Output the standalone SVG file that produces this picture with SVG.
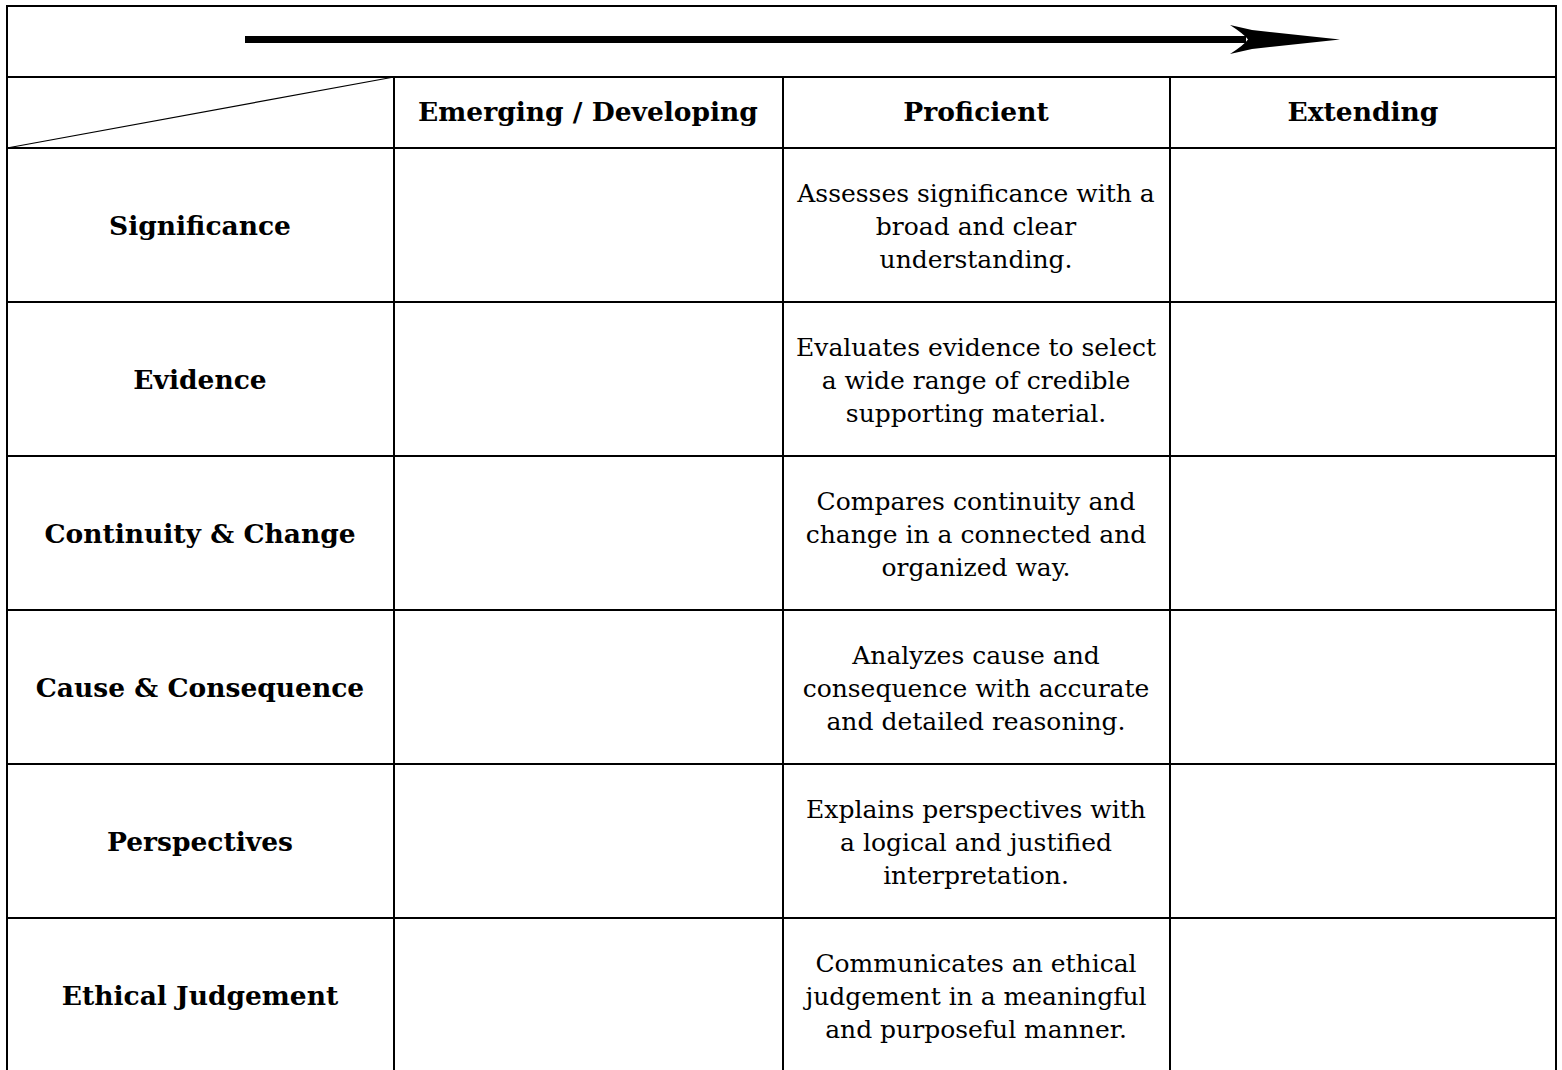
<svg xmlns="http://www.w3.org/2000/svg" width="1562" height="1070" viewBox="0 0 1562 1070">
<style>
.grid{stroke:#000;stroke-width:2;fill:none}
.h{font-family:"DejaVu Serif","Liberation Serif",serif;font-weight:bold;font-size:26.5px;text-anchor:middle;fill:#000}
.t{font-family:"DejaVu Serif","Liberation Serif",serif;font-size:25px;text-anchor:middle;fill:#000}
</style>
<rect width="1562" height="1070" fill="#fff"/>
<g id="grid" class="grid">
<rect x="7" y="6" width="1549" height="1066"/>
<line x1="7" y1="77" x2="1556" y2="77"/>
<line x1="7" y1="148" x2="1556" y2="148"/>
<line x1="7" y1="302" x2="1556" y2="302"/>
<line x1="7" y1="456" x2="1556" y2="456"/>
<line x1="7" y1="610" x2="1556" y2="610"/>
<line x1="7" y1="764" x2="1556" y2="764"/>
<line x1="7" y1="918" x2="1556" y2="918"/>
<line x1="394" y1="77" x2="394" y2="1072"/>
<line x1="783" y1="77" x2="783" y2="1072"/>
<line x1="1170" y1="77" x2="1170" y2="1072"/>
<line x1="7" y1="148" x2="394" y2="77" stroke-width="1.2"/>
</g>
<g id="connectors">
<line x1="245" y1="39.5" x2="1246" y2="39.5" stroke="#000" stroke-width="7"/>
<path d="M1230,25 L1252,30 L1340,39.5 L1252,49 L1230,54 Q1244,45 1248,39.5 Q1244,34 1230,25 Z" fill="#000"/>
</g>
<g id="header">
<text class="h" x="588" y="121">Emerging / Developing</text>
<text class="h" x="976" y="121">Proficient</text>
<text class="h" x="1363" y="121">Extending</text>
</g>
<g id="row-significance">
<text class="h" x="200" y="235">Significance</text>
<text class="t" x="976" y="202">Assesses significance with a</text>
<text class="t" x="976" y="235">broad and clear</text>
<text class="t" x="976" y="268">understanding.</text>
</g>
<g id="row-evidence">
<text class="h" x="200" y="389">Evidence</text>
<text class="t" x="976" y="356">Evaluates evidence to select</text>
<text class="t" x="976" y="389">a wide range of credible</text>
<text class="t" x="976" y="422">supporting material.</text>
</g>
<g id="row-continuity">
<text class="h" x="200" y="543">Continuity &amp; Change</text>
<text class="t" x="976" y="510">Compares continuity and</text>
<text class="t" x="976" y="543">change in a connected and</text>
<text class="t" x="976" y="576">organized way.</text>
</g>
<g id="row-cause">
<text class="h" x="200" y="697">Cause &amp; Consequence</text>
<text class="t" x="976" y="664">Analyzes cause and</text>
<text class="t" x="976" y="697">consequence with accurate</text>
<text class="t" x="976" y="730">and detailed reasoning.</text>
</g>
<g id="row-perspectives">
<text class="h" x="200" y="851">Perspectives</text>
<text class="t" x="976" y="818">Explains perspectives with</text>
<text class="t" x="976" y="851">a logical and justified</text>
<text class="t" x="976" y="884">interpretation.</text>
</g>
<g id="row-ethical">
<text class="h" x="200" y="1005">Ethical Judgement</text>
<text class="t" x="976" y="972">Communicates an ethical</text>
<text class="t" x="976" y="1005">judgement in a meaningful</text>
<text class="t" x="976" y="1038">and purposeful manner.</text>
</g>
</svg>
